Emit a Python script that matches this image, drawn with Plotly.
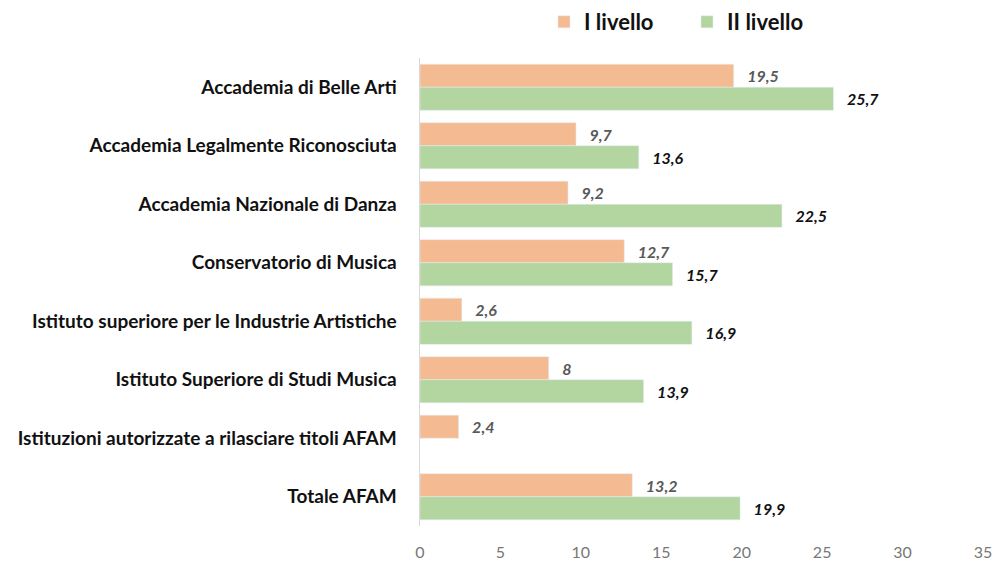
import plotly.graph_objects as go

categories = [
    "Accademia di Belle Arti",
    "Accademia Legalmente Riconosciuta",
    "Accademia Nazionale di Danza",
    "Conservatorio di Musica",
    "Istituto superiore per le Industrie Artistiche",
    "Istituto Superiore di Studi Musica",
    "Istituzioni autorizzate a rilasciare titoli AFAM",
    "Totale AFAM",
]
livello_1 = [19.5, 9.7, 9.2, 12.7, 2.6, 8, 2.4, 13.2]
livello_2 = [25.7, 13.6, 22.5, 15.7, 16.9, 13.9, None, 19.9]
x_ticks = [0, 5, 10, 15, 20, 25, 30, 35]


def fmt(v):
    return "" if v is None else "\u00a0\u00a0\u00a0" + f"{v:g}".replace(".", ",")


FONT = "Lato"
W, H = 995, 561
M_L, M_R, M_T, M_B = 420, 12, 0, 35
PLOT_TOP = 58
area_h = H - M_T - M_B
plot_w = W - M_L - M_R

fig = go.Figure()
fig.add_trace(go.Bar(
    y=categories, x=livello_1, name="I livello", orientation="h",
    marker=dict(color="#F4BB92"),
    text=[fmt(v) for v in livello_1], textposition="outside",
    textfont=dict(family=FONT, size=16, color="#595959", style="italic", weight="bold"),
    cliponaxis=False,
))
fig.add_trace(go.Bar(
    y=categories, x=livello_2, name="II livello", orientation="h",
    marker=dict(color="#B3D5A0"),
    text=[fmt(v) for v in livello_2], textposition="outside",
    textfont=dict(family=FONT, size=16, color="#111111", style="italic", weight="bold"),
    cliponaxis=False,
))

fig.update_layout(
    width=W, height=H,
    margin=dict(l=M_L, r=M_R, t=M_T, b=M_B),
    paper_bgcolor="white", plot_bgcolor="white",
    barmode="group", bargap=0.21, bargroupgap=0,
    font=dict(family=FONT),
    legend=dict(orientation="h", x=(544 - M_L) / plot_w,
                y=(area_h - 22) / area_h, xanchor="left", yanchor="middle",
                font=dict(family=FONT, size=22, color="#111111", weight="bold"),
                itemwidth=30, entrywidth=98),
    xaxis=dict(range=[0, 35], tickvals=x_ticks, showgrid=False, zeroline=False,
               showline=False, ticks="", automargin=False, ticklabelstandoff=15,
               tickfont=dict(family=FONT, size=16, color="#777777")),
    yaxis=dict(autorange="reversed", showgrid=False, showline=True,
               domain=[0, (area_h - PLOT_TOP) / area_h], automargin=False,
               linecolor="#D9D9D9", linewidth=1, ticks="", ticksuffix="    ",
               tickfont=dict(family=FONT, size=19, color="#111111", weight="bold")),
)

fig.write_html(
    "out.html",
    config={"displayModeBar": False},
    post_script="document.body.style.margin='0';document.body.style.overflow='hidden';",
)
